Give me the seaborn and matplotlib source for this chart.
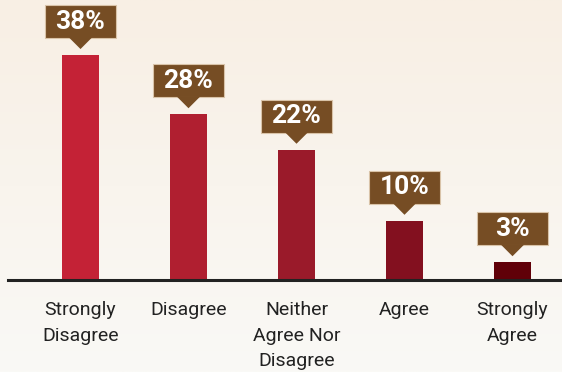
import numpy as np
import pandas as pd
import seaborn as sns
import matplotlib.pyplot as plt
from matplotlib.patches import Polygon, Rectangle

categories = ["Strongly\nDisagree", "Disagree", "Neither\nAgree Nor\nDisagree", "Agree", "Strongly\nAgree"]
values = [38, 28, 22, 10, 3]
bar_colors = ["#C42236", "#B01F30", "#9A1A2A", "#83101F", "#600008"]

sns.set_theme(style="white")
plt.rcParams['font.family'] = ['Roboto', 'DejaVu Sans']

W, H = 562, 372
fig = plt.figure(figsize=(W / 100, H / 100), dpi=100)

# soft warm gradient behind everything
bg = fig.add_axes([0, 0, 1, 1], zorder=-10)
top = np.array([248, 239, 228]) / 255
bot = np.array([250, 249, 246]) / 255
t = np.linspace(0, 1, 256)[:, None]
grad = top * (1 - t) + bot * t
bg.imshow(grad[:, None, :].repeat(2, axis=1), aspect="auto", extent=[0, 1, 0, 1])
bg.axis("off")

base_y = 280
ax = fig.add_axes([8 / W, (H - base_y) / H, (W - 8) / W, base_y / H])
ax.patch.set_alpha(0)

df = pd.DataFrame({"cat": categories, "val": values})
sns.barplot(data=df, x="cat", y="val", hue="cat", palette=bar_colors,
            width=0.34, legend=False, ax=ax, saturation=1, linewidth=0)

px_per_unit = 108
ax.set_xlim(-72.5 / px_per_unit, (W - 8 - 72.5) / px_per_unit)
ax.set_ylim(0, base_y / 5.92)

for s in ["top", "right", "left"]:
    ax.spines[s].set_visible(False)
ax.spines["bottom"].set_color("#222222")
ax.spines["bottom"].set_linewidth(2.2)
ax.set_xlabel("")
ax.set_ylabel("")
ax.set_yticks([])
ax.tick_params(axis="x", length=0, pad=15, labelsize=14, colors="#222222")
for lbl in ax.get_xticklabels():
    lbl.set_linespacing(1.55)
    lbl.set_verticalalignment("top")

# value callouts: brown box with downward pointer above each bar
fig.canvas.draw()
box_w, box_h, tri_h, tri_w, gap = 71, 33, 11, 24, 6
for i, v in enumerate(values):
    x_px, y_px = ax.transData.transform((i, v))
    tip = y_px + gap
    base = tip + tri_h
    tri = Polygon([[x_px - tri_w / 2, base + 1], [x_px + tri_w / 2, base + 1], [x_px, tip]],
                  closed=True, transform=None, facecolor="#764D24", edgecolor="none", zorder=5)
    rect = Rectangle((x_px - box_w / 2, base), box_w, box_h, transform=None,
                     facecolor="#764D24", edgecolor="#D9C3A8", linewidth=0.8, zorder=5)
    fig.add_artist(rect)
    fig.add_artist(tri)
    fig.text(x_px / W, (base + box_h / 2) / H, f"{v}%", ha="center", va="center",
             color="white", fontsize=19, fontweight="bold", zorder=6)

fig.savefig("out.png", dpi=100)
